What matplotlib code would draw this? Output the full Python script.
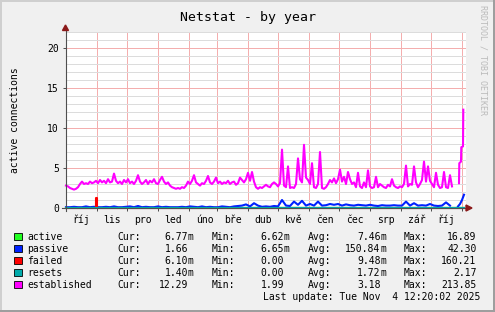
import numpy as np
import matplotlib
matplotlib.use("Agg")
import matplotlib.pyplot as plt
import matplotlib.dates as mdates
from matplotlib.lines import Line2D
from matplotlib.patches import Rectangle, Polygon
from matplotlib.ticker import MultipleLocator, FixedLocator, NullFormatter
from datetime import datetime, timedelta

# ---------------- data ----------------
START = datetime(2024, 9, 30, 12, 20, 2)
END = datetime(2025, 11, 4, 12, 20, 2)

MONTH_LABELS = ["říj", "lis", "pro", "led", "úno", "bře", "dub", "kvě",
                "čen", "čec", "srp", "zář", "říj"]
MONTH_STARTS = [(2024, 10), (2024, 11), (2024, 12), (2025, 1), (2025, 2), (2025, 3),
                (2025, 4), (2025, 5), (2025, 6), (2025, 7), (2025, 8), (2025, 9),
                (2025, 10), (2025, 11)]

# established: one value every 2 days (day offset from START), then the last days
est_days = list(range(0, 392, 2)) + [393, 393.3, 395, 395.3, 397, 397.3]
est_values = [
    2.8, 2.7, 2.5, 2.4, 2.3, 2.4, 2.6, 3.0, 3.3, 3.0, 3.1, 3.0, 3.3, 3.1, 3.2, 3.4, 3.1, 3.5,
    3.2, 3.4, 3.1, 3.6, 3.2, 3.3, 4.3, 3.4, 3.1, 3.3, 3.0, 3.5, 3.2, 3.6, 3.1, 3.3, 3.0, 3.4,
    4.1, 3.3, 3.0, 3.2, 3.5, 3.0, 3.4, 3.2, 3.6, 3.1, 3.0, 3.5, 3.9, 3.3, 3.0, 3.2, 2.8, 2.6,
    2.5, 2.4, 2.5, 2.4, 2.6, 2.5, 2.8, 3.3, 3.0, 3.4, 4.1, 3.2, 3.0, 2.8, 3.1, 3.0, 3.4, 4.0,
    3.2, 3.0, 3.3, 3.8, 3.1, 3.3, 3.0, 3.2, 3.1, 3.4, 3.0, 3.2, 3.3, 2.9, 3.1, 3.8, 3.5, 3.2,
    3.6, 4.4, 3.4, 4.5, 3.3, 2.6, 2.4, 2.6, 2.5, 2.7, 2.9, 2.7, 2.6, 3.0, 3.2, 3.0, 2.7, 3.1,
    7.3, 2.8, 2.6, 5.2, 2.5, 2.6, 2.5, 3.0, 6.2, 3.6, 3.2, 7.9, 3.8, 3.5, 3.0, 5.6, 2.6, 2.5,
    3.0, 7.0, 2.5, 2.4, 2.6, 3.0, 3.5, 3.2, 3.7, 3.1, 3.6, 4.8, 3.3, 3.9, 3.0, 4.5, 3.6, 3.0,
    3.2, 2.6, 4.4, 2.7, 2.5, 3.2, 2.6, 4.7, 2.7, 2.5, 2.6, 3.9, 2.6, 3.0, 2.8, 2.6, 2.5, 2.9,
    2.7, 3.6, 2.8, 2.6, 2.5, 2.7, 2.6, 3.0, 5.3, 2.7, 3.0, 2.9, 5.2, 3.2, 2.6, 3.0, 3.5, 5.8,
    3.3, 5.2, 3.4, 3.0, 2.6, 4.4, 2.9, 2.5, 2.6, 4.5, 2.6, 2.5, 4.1, 2.7, np.nan, np.nan,
    3.1, 5.6, 5.8, 7.6, 7.7, 12.29,
]

# passive: one value every 4 days, then the last few days
pas_days = list(range(0, 392, 4)) + [392, 394, 396, 398]
pas_values = [
    0.1, 0.1, 0.15, 0.1, 0.1, 0.2, 0.1, 0.15, 0.1, 0.1,
    0.15, 0.1, 0.2, 0.1, 0.1, 0.15, 0.2, 0.1, 0.25, 0.1,
    0.15, 0.1, 0.1, 0.2, 0.1, 0.15, 0.1, 0.1, 0.1, 0.15,
    0.1, 0.2, 0.15, 0.1, 0.2, 0.1, 0.15, 0.1, 0.1, 0.2,
    0.15, 0.1, 0.2, 0.25, 0.3, 0.45, 0.2, 0.6, 0.3, 0.15,
    0.2, 0.15, 0.25, 0.2, 1.0, 0.3, 0.25, 0.8, 0.4, 0.9,
    0.3, 0.5, 0.3, 0.8, 0.3, 0.35, 0.5, 0.4, 0.5, 0.3,
    0.45, 0.35, 0.3, 0.4, 0.35, 0.3, 0.4, 0.3, 0.25, 0.35,
    0.3, 0.3, 0.35, 0.3, 0.3, 0.8, 0.3, 0.6, 0.3, 0.35,
    0.3, 0.5, 0.3, 0.25, 0.3, 0.7, 0.3, np.nan,
    0.2, 0.5, 1.0, 1.66,
]

fail_days = [0, 29, 30, 31, 398]
fail_values = [0.0, 0.0, 1.2, 0.0, 0.0]

act_days = [0, 398]
act_values = [0.0075, 0.0068]

res_days = [0, 398]
res_values = [0.0017, 0.0014]

SERIES = ["active", "passive", "failed", "resets", "established"]
COLORS = ["#22ff22", "#0022ff", "#ff0000", "#00aaaa", "#ff00ff"]
CUR = [6.77e-3, 1.66, 6.10e-3, 1.40e-3, 12.29]
MIN = [6.62e-3, 6.65e-3, 0.0, 0.0, 1.99]
AVG = [7.46e-3, 150.84e-3, 9.48e-3, 1.72e-3, 3.18]
MAX = [16.89, 42.30, 160.21, 2.17, 213.85]

# ---------------- layout ----------------
W, H = 495, 312
plt.rcParams["font.family"] = ["DejaVu Sans Mono", "DejaVu Sans"]


def fx(x):
    return x / W


def fy(y):
    return 1 - y / H


fig = plt.figure(figsize=(W / 100, H / 100), dpi=100, facecolor="#F0F0F0")
ax = fig.add_axes([fx(66), fy(208), 400 / W, 176 / H])
ax.set_facecolor("white")
for s in ax.spines.values():
    s.set_visible(False)


def to_dates(days):
    return [mdates.date2num(START + timedelta(days=d)) for d in days]


lw = 1.5
ax.plot(to_dates(act_days), act_values, color=COLORS[0], lw=lw, clip_on=False, zorder=3)
ax.plot(to_dates(pas_days), pas_values, color=COLORS[1], lw=lw, clip_on=False, zorder=3)
ax.plot(to_dates(fail_days), fail_values, color=COLORS[2], lw=lw, drawstyle="steps-mid", clip_on=False, zorder=3)
ax.plot(to_dates(res_days), res_values, color=COLORS[3], lw=lw, clip_on=False, zorder=3)
ax.plot(to_dates(est_days), est_values, color=COLORS[4], lw=lw, clip_on=False, zorder=3)

ax.set_xlim(mdates.date2num(START), mdates.date2num(END))
ax.set_ylim(0, 22)

# y axis
ax.yaxis.set_major_locator(MultipleLocator(5))
ax.yaxis.set_minor_locator(MultipleLocator(1))
ax.tick_params(axis="y", which="major", length=2.2, width=0.72, color="#4F4F4F",
               pad=2.9, labelsize=7, labelcolor="black")
ax.tick_params(axis="y", which="minor", length=0)

# x axis: grid on month starts, labels at mid month
month_pos = [mdates.date2num(datetime(y, m, 1)) for (y, m) in MONTH_STARTS]
label_pos = [mdates.date2num(datetime(y, m, 1) + timedelta(days=15)) for (y, m) in MONTH_STARTS[:-1]]
ax.xaxis.set_major_locator(FixedLocator(month_pos))
ax.xaxis.set_major_formatter(NullFormatter())
ax.set_xticks(label_pos, labels=MONTH_LABELS, minor=True)
ax.tick_params(axis="x", which="major", length=2.2, width=0.72, color="#4F4F4F")
ax.tick_params(axis="x", which="minor", length=0, pad=5, labelsize=7, labelcolor="black")

ax.set_axisbelow(True)
ax.grid(which="major", axis="both", color="#F4AEAE", lw=0.72)
ax.grid(which="minor", axis="y", color="#DCDCDC", lw=0.72)

# axis lines and arrows
axis_col = "#4F4F4F"
arrow_col = "#8B1A1A"
fig.add_artist(Line2D([fx(65.5), fx(65.5)], [fy(211), fy(29)], color=axis_col, lw=0.8, zorder=5))
fig.add_artist(Line2D([fx(62), fx(467)], [fy(208), fy(208)], color=axis_col, lw=0.8, zorder=5))
fig.add_artist(Polygon([(fx(62.5), fy(30.5)), (fx(68.5), fy(30.5)), (fx(65.5), fy(25))],
                       closed=True, transform=fig.transFigure, color=arrow_col, zorder=6))
fig.add_artist(Polygon([(fx(466), fy(205)), (fx(466), fy(211)), (fx(472), fy(208))],
                       closed=True, transform=fig.transFigure, color=arrow_col, zorder=6))

# titles
fig.text(fx(247.5), fy(21.5), "Netstat - by year", ha="center", va="baseline", fontsize=9.5)
fig.text(fx(15), fy(120), "active connections", rotation=90, ha="center", va="center", fontsize=7)
fig.text(fx(483.5), fy(60), "RRDTOOL / TOBI OETIKER", rotation=270, ha="center", va="center",
         fontsize=6, color="#BBBBBB")


# legend
def fmt(v):
    if v != 0 and abs(v) < 1:
        return f"{v * 1000:.2f}", "m"
    return f"{v:.2f}", ""


fs = 7
for i, name in enumerate(SERIES):
    base = 240 + 12 * i
    fig.add_artist(Rectangle((fx(14), fy(base)), 7.5 / W, 7.5 / H, transform=fig.transFigure,
                             facecolor=COLORS[i], edgecolor="black", lw=0.6))
    fig.text(fx(27), fy(base), name, ha="left", va="baseline", fontsize=fs)
    for lab, lab_x, val, end_x in (("Cur:", 117, CUR[i], 188),
                                   ("Min:", 211.5, MIN[i], 284),
                                   ("Avg:", 308, AVG[i], 380.5),
                                   ("Max:", 404, MAX[i], 476.5)):
        fig.text(fx(lab_x), fy(base), lab, ha="left", va="baseline", fontsize=fs)
        num, suf = fmt(val)
        fig.text(fx(end_x), fy(base), num, ha="right", va="baseline", fontsize=fs)
        if suf:
            fig.text(fx(end_x), fy(base), suf, ha="left", va="baseline", fontsize=fs)

fig.text(fx(480.5), fy(300), "Last update: Tue Nov  4 12:20:02 2025", ha="right", va="baseline", fontsize=fs)

# 3D-ish border
fig.add_artist(Rectangle((0, fy(2)), 1, 2 / H, transform=fig.transFigure, color="#CFCFCF", lw=0))
fig.add_artist(Rectangle((0, 0), 2 / W, 1, transform=fig.transFigure, color="#CFCFCF", lw=0))
fig.add_artist(Rectangle((0, 0), 1, 2 / H, transform=fig.transFigure, color="#9E9E9E", lw=0))
fig.add_artist(Rectangle((fx(493), 0), 2 / W, 1, transform=fig.transFigure, color="#9E9E9E", lw=0))

fig.savefig("out.png", dpi=100, facecolor=fig.get_facecolor())
